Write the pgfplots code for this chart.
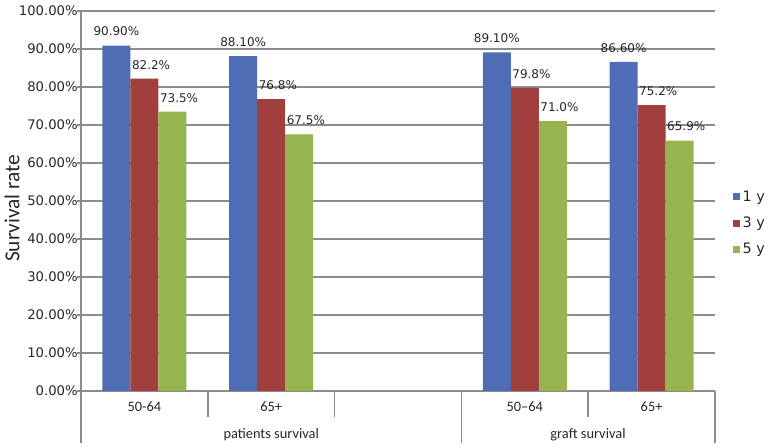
\documentclass[border=0pt]{standalone}
\usepackage{pgfplots}
\pgfplotsset{compat=1.18}
\usepackage{fontspec}
\setmainfont{Carlito}
\newfontfamily\dv{DejaVu Sans}
\definecolor{cblue}{HTML}{4F6DB5}
\definecolor{cred}{HTML}{A03F3E}
\definecolor{cgreen}{HTML}{96B550}
\definecolor{gline}{HTML}{8C8C8C}
\begin{document}
\begin{tikzpicture}
\useasboundingbox (0,0) rectangle (576.75pt,335.25pt);
\begin{axis}[
  at={(60.75pt,42pt)}, anchor=south west,
  scale only axis, width=475.5pt, height=285pt,
  xmin=-0.5, xmax=4.5, ymin=0, ymax=100,
  ybar=0pt, bar width=21pt,
  axis lines*=left,
  axis line style={gline, line width=0.8pt},
  ymajorgrids, grid style={gline, line width=0.8pt},
  ytick={0,10,...,100},
  yticklabel={\pgfmathprintnumber[fixed,fixed zerofill,precision=2]{\tick}\%},
  yticklabel style={font=\dv\fontsize{9.9}{12}\selectfont, text=black!85, xshift=4pt},
  /pgf/number format/assume math mode=true,
  ytick style={gline, line width=0.8pt},
  tick align=outside, major tick length=3pt,
  xtick={0,1,3,4},
  xticklabels={50-64,65+,50–64,65+},
  x tick style={draw=none},
  xticklabel style={font=\fontsize{10.8}{12}\selectfont, text=black!85, anchor=center, yshift=-9pt},
  point meta=explicit symbolic,
  nodes near coords,
  every node near coord/.append style={font=\dv\fontsize{9}{10.5}\selectfont, text=black!85, anchor=center, yshift=10.5pt},
  legend style={draw=none, fill=none, at={(1.028,0.535)}, anchor=north west,
    font=\dv\fontsize{10.8}{12}\selectfont, text=black!85, row sep=6.3pt, inner sep=0pt,
    nodes={inner sep=2pt}},
  legend cell align=left,
  legend image code/.code={\fill[#1] (0pt,-2.6pt) rectangle (5.2pt,2.6pt);},
  clip=false,
]
\addplot[fill=cblue, draw=none] coordinates {(0,90.9)[90.90\%] (1,88.1)[88.10\%] (3,89.1)[89.10\%] (4,86.6)[86.60\%]};
\addplot[fill=cred, draw=none, every node near coord/.append style={xshift=5pt}] coordinates {(0,82.2)[82.2\%] (1,76.8)[76.8\%] (3,79.8)[79.8\%] (4,75.2)[75.2\%]};
\addplot[fill=cgreen, draw=none, every node near coord/.append style={xshift=5pt}] coordinates {(0,73.5)[73.5\%] (1,67.5)[67.5\%] (3,71.0)[71.0\%] (4,65.9)[65.9\%]};
\legend{1 y,3 y,5 y}
\end{axis}
\draw[gline, line width=0.8pt] (156pt,42pt) -- (156pt,22.5pt)
  (250.95pt,42pt) -- (250.95pt,22.5pt)
  (441pt,42pt) -- (441pt,22.5pt)
  (60.75pt,42pt) -- (60.75pt,3pt)
  (346.05pt,42pt) -- (346.05pt,3pt)
  (536.25pt,42pt) -- (536.25pt,3pt);
\node[font=\fontsize{10.8}{12}\selectfont, text=black!85] at (203.4pt,9pt) {patients survival};
\node[font=\fontsize{10.8}{12}\selectfont, text=black!85] at (441pt,9pt) {graft survival};
\node[font=\fontsize{16}{19}\selectfont, text=black!85, rotate=90] at (9pt,179pt) {Survival rate};
\end{tikzpicture}
\end{document}
